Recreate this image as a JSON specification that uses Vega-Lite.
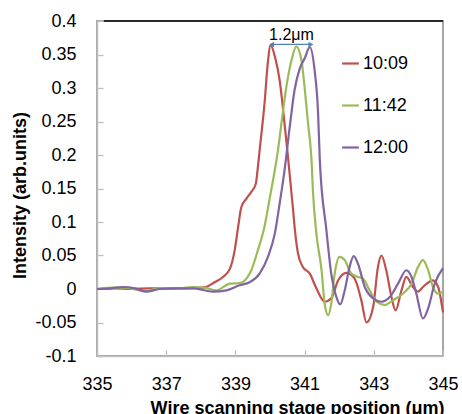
{
  "$schema": "https://vega.github.io/schema/vega-lite/v6.json",
  "autosize": {"type": "none"},
  "width": 346,
  "height": 335,
  "padding": {"left": 97, "top": 21, "right": 19, "bottom": 58},
  "background": "white",
  "config": {
    "view": {"stroke": "#A6A6A6", "strokeWidth": 2},
    "font": "Liberation Sans",
    "axis": {
      "zindex": 1,
      "domainColor": "#BFBFBF",
      "domainWidth": 1.5,
      "ticks": true,
      "tickColor": "#BFBFBF",
      "tickWidth": 1.3,
      "tickSize": -6,
      "grid": false,
      "labelFlush": false,
      "labelOverlap": false,
      "labelFont": "Liberation Sans",
      "labelFontSize": 18,
      "labelColor": "#000000",
      "titleFont": "Liberation Sans",
      "titleFontSize": 18,
      "titleFontWeight": "bold",
      "titleColor": "#000000"
    }
  },
  "layer": [
    {
      "data": {"values": [
        {"x": 335, "y": 0.000, "s": "10:09"},
        {"x": 335.5, "y": 0.001, "s": "10:09"},
        {"x": 336, "y": 0.000, "s": "10:09"},
        {"x": 336.5, "y": 0.001, "s": "10:09"},
        {"x": 337, "y": 0.001, "s": "10:09"},
        {"x": 337.5, "y": 0.001, "s": "10:09"},
        {"x": 338, "y": 0.002, "s": "10:09"},
        {"x": 338.15, "y": 0.003, "s": "10:09"},
        {"x": 338.4, "y": 0.010, "s": "10:09"},
        {"x": 338.64, "y": 0.018, "s": "10:09"},
        {"x": 338.84, "y": 0.030, "s": "10:09"},
        {"x": 338.98, "y": 0.058, "s": "10:09"},
        {"x": 339.08, "y": 0.093, "s": "10:09"},
        {"x": 339.17, "y": 0.122, "s": "10:09"},
        {"x": 339.32, "y": 0.135, "s": "10:09"},
        {"x": 339.46, "y": 0.145, "s": "10:09"},
        {"x": 339.59, "y": 0.157, "s": "10:09"},
        {"x": 339.65, "y": 0.182, "s": "10:09"},
        {"x": 339.70, "y": 0.207, "s": "10:09"},
        {"x": 339.85, "y": 0.282, "s": "10:09"},
        {"x": 339.93, "y": 0.334, "s": "10:09"},
        {"x": 340.02, "y": 0.364, "s": "10:09"},
        {"x": 340.15, "y": 0.345, "s": "10:09"},
        {"x": 340.28, "y": 0.311, "s": "10:09"},
        {"x": 340.43, "y": 0.242, "s": "10:09"},
        {"x": 340.52, "y": 0.197, "s": "10:09"},
        {"x": 340.66, "y": 0.122, "s": "10:09"},
        {"x": 340.72, "y": 0.088, "s": "10:09"},
        {"x": 340.81, "y": 0.053, "s": "10:09"},
        {"x": 340.95, "y": 0.033, "s": "10:09"},
        {"x": 341.15, "y": 0.023, "s": "10:09"},
        {"x": 341.34, "y": 0.001, "s": "10:09"},
        {"x": 341.58, "y": -0.019, "s": "10:09"},
        {"x": 341.77, "y": -0.014, "s": "10:09"},
        {"x": 341.97, "y": 0.013, "s": "10:09"},
        {"x": 342.21, "y": 0.024, "s": "10:09"},
        {"x": 342.45, "y": 0.015, "s": "10:09"},
        {"x": 342.64, "y": -0.017, "s": "10:09"},
        {"x": 342.79, "y": -0.050, "s": "10:09"},
        {"x": 342.98, "y": -0.027, "s": "10:09"},
        {"x": 343.12, "y": 0.033, "s": "10:09"},
        {"x": 343.22, "y": 0.050, "s": "10:09"},
        {"x": 343.36, "y": 0.028, "s": "10:09"},
        {"x": 343.51, "y": -0.012, "s": "10:09"},
        {"x": 343.63, "y": -0.032, "s": "10:09"},
        {"x": 343.80, "y": -0.002, "s": "10:09"},
        {"x": 343.94, "y": 0.018, "s": "10:09"},
        {"x": 344.13, "y": 0.003, "s": "10:09"},
        {"x": 344.28, "y": -0.004, "s": "10:09"},
        {"x": 344.42, "y": 0.003, "s": "10:09"},
        {"x": 344.71, "y": 0.013, "s": "10:09"},
        {"x": 344.86, "y": 0.003, "s": "10:09"},
        {"x": 345, "y": -0.035, "s": "10:09"},

        {"x": 335, "y": 0.000, "s": "11:42"},
        {"x": 335.5, "y": 0.002, "s": "11:42"},
        {"x": 335.8, "y": 0.002, "s": "11:42"},
        {"x": 336.4, "y": -0.003, "s": "11:42"},
        {"x": 336.8, "y": 0.001, "s": "11:42"},
        {"x": 337.39, "y": 0.001, "s": "11:42"},
        {"x": 337.77, "y": 0.003, "s": "11:42"},
        {"x": 338.11, "y": 0.002, "s": "11:42"},
        {"x": 338.45, "y": -0.002, "s": "11:42"},
        {"x": 338.84, "y": 0.008, "s": "11:42"},
        {"x": 339.13, "y": 0.009, "s": "11:42"},
        {"x": 339.32, "y": 0.0155, "s": "11:42"},
        {"x": 339.46, "y": 0.028, "s": "11:42"},
        {"x": 339.65, "y": 0.058, "s": "11:42"},
        {"x": 339.84, "y": 0.093, "s": "11:42"},
        {"x": 339.98, "y": 0.132, "s": "11:42"},
        {"x": 340.14, "y": 0.178, "s": "11:42"},
        {"x": 340.23, "y": 0.207, "s": "11:42"},
        {"x": 340.33, "y": 0.247, "s": "11:42"},
        {"x": 340.47, "y": 0.301, "s": "11:42"},
        {"x": 340.62, "y": 0.341, "s": "11:42"},
        {"x": 340.76, "y": 0.362, "s": "11:42"},
        {"x": 340.91, "y": 0.341, "s": "11:42"},
        {"x": 341.00, "y": 0.301, "s": "11:42"},
        {"x": 341.10, "y": 0.247, "s": "11:42"},
        {"x": 341.20, "y": 0.192, "s": "11:42"},
        {"x": 341.24, "y": 0.147, "s": "11:42"},
        {"x": 341.34, "y": 0.083, "s": "11:42"},
        {"x": 341.49, "y": 0.028, "s": "11:42"},
        {"x": 341.58, "y": -0.022, "s": "11:42"},
        {"x": 341.68, "y": -0.039, "s": "11:42"},
        {"x": 341.77, "y": -0.022, "s": "11:42"},
        {"x": 341.87, "y": 0.023, "s": "11:42"},
        {"x": 342.01, "y": 0.048, "s": "11:42"},
        {"x": 342.16, "y": 0.043, "s": "11:42"},
        {"x": 342.35, "y": 0.023, "s": "11:42"},
        {"x": 342.54, "y": 0.018, "s": "11:42"},
        {"x": 342.69, "y": 0.0155, "s": "11:42"},
        {"x": 342.88, "y": -0.002, "s": "11:42"},
        {"x": 343.08, "y": -0.019, "s": "11:42"},
        {"x": 343.32, "y": -0.024, "s": "11:42"},
        {"x": 343.55, "y": -0.017, "s": "11:42"},
        {"x": 343.84, "y": -0.007, "s": "11:42"},
        {"x": 344.09, "y": 0.008, "s": "11:42"},
        {"x": 344.28, "y": 0.033, "s": "11:42"},
        {"x": 344.42, "y": 0.043, "s": "11:42"},
        {"x": 344.57, "y": 0.028, "s": "11:42"},
        {"x": 344.71, "y": 0.003, "s": "11:42"},
        {"x": 344.86, "y": -0.007, "s": "11:42"},
        {"x": 345, "y": -0.004, "s": "11:42"},

        {"x": 335, "y": 0.000, "s": "12:00"},
        {"x": 335.4, "y": 0.001, "s": "12:00"},
        {"x": 335.75, "y": 0.003, "s": "12:00"},
        {"x": 336.1, "y": 0.001, "s": "12:00"},
        {"x": 336.43, "y": -0.004, "s": "12:00"},
        {"x": 336.8, "y": 0.000, "s": "12:00"},
        {"x": 337.3, "y": 0.001, "s": "12:00"},
        {"x": 337.8, "y": 0.001, "s": "12:00"},
        {"x": 338.35, "y": -0.004, "s": "12:00"},
        {"x": 338.74, "y": -0.002, "s": "12:00"},
        {"x": 339.12, "y": 0.0055, "s": "12:00"},
        {"x": 339.41, "y": 0.010, "s": "12:00"},
        {"x": 339.70, "y": 0.023, "s": "12:00"},
        {"x": 339.94, "y": 0.048, "s": "12:00"},
        {"x": 340.14, "y": 0.083, "s": "12:00"},
        {"x": 340.28, "y": 0.128, "s": "12:00"},
        {"x": 340.42, "y": 0.177, "s": "12:00"},
        {"x": 340.57, "y": 0.242, "s": "12:00"},
        {"x": 340.71, "y": 0.297, "s": "12:00"},
        {"x": 340.86, "y": 0.329, "s": "12:00"},
        {"x": 341.00, "y": 0.344, "s": "12:00"},
        {"x": 341.15, "y": 0.361, "s": "12:00"},
        {"x": 341.29, "y": 0.326, "s": "12:00"},
        {"x": 341.39, "y": 0.262, "s": "12:00"},
        {"x": 341.44, "y": 0.192, "s": "12:00"},
        {"x": 341.63, "y": 0.088, "s": "12:00"},
        {"x": 341.77, "y": 0.023, "s": "12:00"},
        {"x": 341.92, "y": -0.012, "s": "12:00"},
        {"x": 342.03, "y": -0.023, "s": "12:00"},
        {"x": 342.16, "y": -0.002, "s": "12:00"},
        {"x": 342.30, "y": 0.033, "s": "12:00"},
        {"x": 342.42, "y": 0.049, "s": "12:00"},
        {"x": 342.54, "y": 0.038, "s": "12:00"},
        {"x": 342.74, "y": 0.003, "s": "12:00"},
        {"x": 342.98, "y": -0.014, "s": "12:00"},
        {"x": 343.22, "y": -0.019, "s": "12:00"},
        {"x": 343.46, "y": -0.012, "s": "12:00"},
        {"x": 343.70, "y": 0.008, "s": "12:00"},
        {"x": 343.94, "y": 0.028, "s": "12:00"},
        {"x": 344.09, "y": 0.018, "s": "12:00"},
        {"x": 344.23, "y": -0.007, "s": "12:00"},
        {"x": 344.42, "y": -0.044, "s": "12:00"},
        {"x": 344.57, "y": -0.029, "s": "12:00"},
        {"x": 344.76, "y": 0.008, "s": "12:00"},
        {"x": 345, "y": 0.031, "s": "12:00"}
      ]},
      "mark": {"type": "line", "interpolate": "monotone", "strokeWidth": 2.2},
      "encoding": {
        "x": {
          "field": "x", "type": "quantitative",
          "scale": {"domain": [335, 345], "nice": false, "zero": false},
          "axis": {
            "values": [335, 337, 339, 341, 343, 345],
            "tickCount": 20,
            "labelExpr": "'' + datum.value",
            "title": "Wire scanning stage position (μm)",
            "labelPadding": 25,
            "labelOverlap": false,
            "titleX": 200,
            "titleY": 43,
            "titleBaseline": "top",
            "titleAlign": "center",
            "titleAnchor": null
          }
        },
        "y": {
          "field": "y", "type": "quantitative",
          "scale": {"domain": [-0.1, 0.4], "nice": false, "zero": false},
          "axis": {
            "values": [-0.1, -0.05, 0, 0.05, 0.1, 0.15, 0.2, 0.25, 0.3, 0.35, 0.4],
            "tickCount": 20,
            "labelExpr": "'' + datum.value",
            "labelOverlap": false,
            "title": "Intensity (arb.units)",
            "labelPadding": 27,
            "titleX": -77,
            "titleY": 174,
            "titleBaseline": "middle",
            "titleAlign": "center",
            "titleAngle": -90
          }
        },
        "color": {
          "field": "s", "type": "nominal",
          "scale": {"domain": ["10:09", "11:42", "12:00"], "range": ["#C0504D", "#9BBB59", "#8064A2"]},
          "legend": {
            "title": null,
            "orient": "none",
            "legendX": 244,
            "legendY": 33,
            "padding": 0,
            "symbolType": "stroke",
            "symbolSize": 280,
            "symbolStrokeWidth": 2.2,
            "labelFont": "Liberation Sans",
            "labelFontSize": 18,
            "labelColor": "#000000",
            "labelOffset": 3,
            "rowPadding": 23
          }
        }
      }
    },
    {
      "data": {"values": [{}]},
      "mark": {"type": "rule", "color": "#000000", "strokeWidth": 1.5},
      "encoding": {"x": {"datum": 335.2}, "x2": {"datum": 345}, "y": {"datum": 0.4}}
    },
    {
      "data": {"values": [{}]},
      "mark": {"type": "rule", "color": "#4F81BD", "strokeWidth": 1.2},
      "encoding": {"x": {"datum": 340.0}, "x2": {"datum": 341.23}, "y": {"datum": 0.365}}
    },
    {
      "data": {"values": [{}]},
      "mark": {"type": "point", "shape": "triangle-left", "filled": true, "color": "#4F81BD", "size": 30, "opacity": 1},
      "encoding": {"x": {"datum": 340.05}, "y": {"datum": 0.365}}
    },
    {
      "data": {"values": [{}]},
      "mark": {"type": "point", "shape": "triangle-right", "filled": true, "color": "#4F81BD", "size": 30, "opacity": 1},
      "encoding": {"x": {"datum": 341.18}, "y": {"datum": 0.365}}
    },
    {
      "data": {"values": [{}]},
      "mark": {"type": "text", "text": "1.2μm", "font": "Liberation Sans", "fontSize": 16, "color": "#000000", "baseline": "middle", "align": "center"},
      "encoding": {"x": {"datum": 340.62}, "y": {"datum": 0.379}}
    }
  ]
}
